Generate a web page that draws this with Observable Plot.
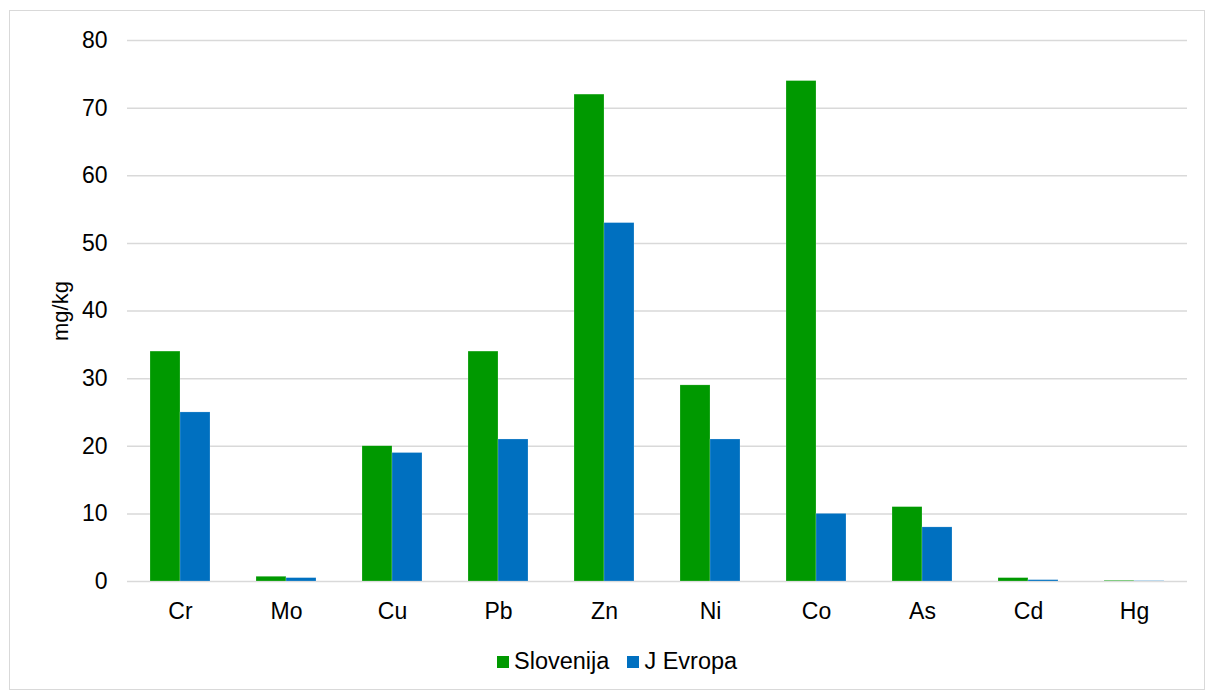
<!DOCTYPE html>
<html>
<head>
<meta charset="utf-8">
<script src="https://cdn.jsdelivr.net/npm/d3@7"></script>
<script src="https://cdn.jsdelivr.net/npm/@observablehq/plot@0.6"></script>
<style>
  body { margin: 0; background: #fff; font-family: "Liberation Sans", Arial, sans-serif; }
  #frame { position: absolute; left: 9px; top: 10px; width: 1196px; height: 680px; border: 1px solid #d9d9d9; box-sizing: border-box; }
  #chart { position: absolute; left: 0; top: 0; }
  #legend { position: absolute; top: 648px; left: 0; width: 1206px; display: flex; justify-content: flex-start; align-items: center; font-size: 23.5px; color: #000; }
  .item { display: flex; align-items: center; }
  .sw { width: 12px; height: 12px; margin-right: 5px; }
</style>
</head>
<body>
<div id="frame"></div>
<div id="chart"></div>
<div id="legend"></div>
<script>
const elements = ["Cr", "Mo", "Cu", "Pb", "Zn", "Ni", "Co", "As", "Cd", "Hg"];
const seriesNames = ["Slovenija", "J Evropa"];
const slovenija = [34, 0.7, 20, 34, 72, 29, 74, 11, 0.5, 0.1];
const jEvropa = [25, 0.5, 19, 21, 53, 21, 10, 8, 0.2, 0.05];
const yTicks = [0, 10, 20, 30, 40, 50, 60, 70, 80];
const colors = ["#009900", "#0070C0"];

const data = [];
elements.forEach((el, i) => {
  data.push({element: el, series: seriesNames[0], value: slovenija[i]});
  data.push({element: el, series: seriesNames[1], value: jEvropa[i]});
});

const chart = Plot.plot({
  width: 1206,
  height: 630,
  marginTop: 40,
  marginBottom: 49,
  marginLeft: 124,
  marginRight: 16,
  style: {fontFamily: "'Liberation Sans', Arial, sans-serif", fontSize: "23px", color: "#000", background: "transparent"},
  fx: {domain: elements, padding: 0, label: null},
  x: {domain: seriesNames, paddingInner: 0, paddingOuter: 0.72, axis: null},
  y: {domain: [0, 80], label: null},
  color: {domain: seriesNames, range: colors},
  marks: [
    Plot.ruleY(yTicks, {stroke: "#d9d9d9", strokeWidth: 1.5}),
    Plot.barY(data, {fx: "element", x: "series", y: "value", fill: "series", stroke: "#ffffff", strokeOpacity: 0.4, strokeWidth: 0.5}),
    Plot.axisY({ticks: yTicks, tickSize: 0, tickPadding: 20, label: "mg/kg", labelArrow: "none", labelAnchor: "center", labelOffset: 75, fontSize: 23}),
    Plot.axisFx({anchor: "bottom", tickSize: 0, tickPadding: 21, label: null, fontSize: 23})
  ]
});
document.getElementById("chart").appendChild(chart);
d3.select(chart).selectAll("text")
  .filter(function() { return this.textContent.indexOf("mg/kg") === 0; })
  .text("mg/kg")
  .style("font-size", "22px");

const legend = document.getElementById("legend");
legend.style.paddingLeft = "497px";
seriesNames.forEach((name, i) => {
  const item = document.createElement("div");
  item.className = "item";
  if (i > 0) item.style.marginLeft = "18px";
  const sw = document.createElement("div");
  sw.className = "sw";
  sw.style.background = colors[i];
  const label = document.createElement("span");
  label.textContent = name;
  item.appendChild(sw);
  item.appendChild(label);
  legend.appendChild(item);
});
</script>
</body>
</html>
